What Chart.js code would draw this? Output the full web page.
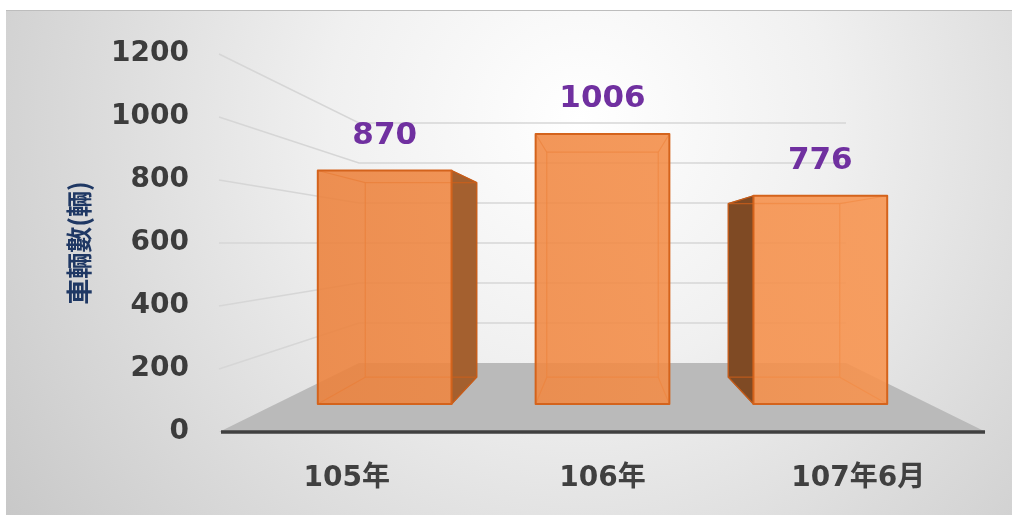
<!DOCTYPE html>
<html>
<head>
<meta charset="utf-8">
<script src="https://cdn.jsdelivr.net/npm/chart.js@4.4.0/dist/chart.umd.min.js"></script>
<style>
  html, body { margin: 0; padding: 0; background: #ffffff; }
  #wrap { width: 1012px; height: 515px; }
</style>
</head>
<body>
<div id="wrap"><canvas id="vehicleChart" width="1012" height="515"></canvas></div>
<script>
// Dati del grafico
const categories = ['105年', '106年', '107年6月'];
const vehicleCounts = [870, 1006, 776];
const yTicks = [0, 200, 400, 600, 800, 1000, 1200];
const yTitle = '車輛數(輛)';

// Profondità della prospettiva (rapporto rispetto al piano frontale)
const S_BAR_FRONT = 0.852;
const S_BAR_BACK = 0.71;
const S_WALL = 0.635;

const NUM_FONT = '"DejaVu Sans", "Noto Sans CJK TC", sans-serif';

// Proiezione verso il punto di fuga (centro dell'area del grafico)
function projector(area) {
    const cx = (area.left + area.right) / 2;
    const cy = (area.top + area.bottom) / 2;
    return function(x, y, s) {
        return { x: cx + s * (x - cx), y: cy + s * (y - cy) };
    };
}

function poly(ctx, pts) {
    ctx.beginPath();
    ctx.moveTo(pts[0].x, pts[0].y);
    for (let i = 1; i < pts.length; i++) ctx.lineTo(pts[i].x, pts[i].y);
    ctx.closePath();
}

/**
 * Sfondo grigio con sfumatura radiale
 */
const backgroundPlugin = {
    id: 'slideBackground',
    beforeDraw(chart) {
        const ctx = chart.ctx;
        ctx.save();
        ctx.fillStyle = '#ffffff';
        ctx.fillRect(0, 0, chart.width, chart.height);
        const g = ctx.createRadialGradient(580, 120, 0, 580, 120, 720);
        g.addColorStop(0, '#ffffff');
        g.addColorStop(0.35, '#f0f0f0');
        g.addColorStop(1, '#c6c6c6');
        ctx.fillStyle = g;
        ctx.fillRect(6, 10, chart.width - 6, chart.height - 10);
        ctx.strokeStyle = '#bdbdbd';
        ctx.lineWidth = 1;
        ctx.beginPath();
        ctx.moveTo(6, 10.5);
        ctx.lineTo(chart.width, 10.5);
        ctx.stroke();
        ctx.restore();
    }
};

/**
 * Griglia in prospettiva, pavimento e barre 3D
 */
const perspectivePlugin = {
    id: 'perspective3d',
    beforeDatasetsDraw(chart) {
        const ctx = chart.ctx;
        const area = chart.chartArea;
        const yScale = chart.scales.y;
        const pr = projector(area);

        ctx.save();
        // linee della griglia: parete sinistra + parete di fondo
        ctx.strokeStyle = '#d6d6d6';
        ctx.lineWidth = 1.5;
        yScale.ticks.forEach(t => {
            if (t.value === 0) return;
            const yF = yScale.getPixelForValue(t.value);
            const a = pr(area.left, yF, S_WALL);
            const b = pr(area.right, yF, S_WALL);
            ctx.beginPath();
            ctx.moveTo(area.left, yF);
            ctx.lineTo(a.x, a.y);
            ctx.lineTo(b.x, b.y);
            ctx.stroke();
        });

        // pavimento
        const y0 = yScale.getPixelForValue(0);
        ctx.fillStyle = '#bababa';
        poly(ctx, [
            { x: area.left, y: y0 },
            { x: area.right, y: y0 },
            pr(area.right, y0, S_WALL),
            pr(area.left, y0, S_WALL)
        ]);
        ctx.fill();

        // asse orizzontale
        ctx.strokeStyle = '#404040';
        ctx.lineWidth = 3.5;
        ctx.beginPath();
        ctx.moveTo(area.left + 2, y0);
        ctx.lineTo(area.right - 1, y0);
        ctx.stroke();

        // barre
        const frontGrad = ctx.createLinearGradient(area.left, 0, area.right, 0);
        frontGrad.addColorStop(0, 'rgba(234,126,56,0.88)');
        frontGrad.addColorStop(1, 'rgba(250,150,80,0.88)');

        const meta = chart.getDatasetMeta(0);
        meta.data.forEach(bar => {
            const p = bar.getProps(['x', 'y', 'base', 'width'], true);
            const x0 = p.x - p.width / 2;
            const x1 = p.x + p.width / 2;
            const F = [pr(x0, p.y, S_BAR_FRONT), pr(x1, p.y, S_BAR_FRONT), pr(x1, p.base, S_BAR_FRONT), pr(x0, p.base, S_BAR_FRONT)];
            const B = [pr(x0, p.y, S_BAR_BACK), pr(x1, p.y, S_BAR_BACK), pr(x1, p.base, S_BAR_BACK), pr(x0, p.base, S_BAR_BACK)];

            // facce laterali visibili
            ctx.lineJoin = 'round';
            if (B[1].x > F[1].x + 0.5) {
                poly(ctx, [F[1], B[1], B[2], F[2]]);
                ctx.fillStyle = '#a4602f';
                ctx.fill();
                ctx.strokeStyle = '#b8581a';
                ctx.lineWidth = 1.2;
                ctx.stroke();
            }
            if (B[0].x < F[0].x - 0.5) {
                poly(ctx, [F[0], B[0], B[3], F[3]]);
                ctx.fillStyle = '#7f4a24';
                ctx.fill();
                ctx.strokeStyle = '#a8521a';
                ctx.lineWidth = 1.2;
                ctx.stroke();
            }

            // spigoli interni (visti in trasparenza)
            ctx.strokeStyle = 'rgba(205,95,25,0.75)';
            ctx.lineWidth = 1.2;
            poly(ctx, B);
            ctx.stroke();
            for (let i = 0; i < 4; i++) {
                ctx.beginPath();
                ctx.moveTo(F[i].x, F[i].y);
                ctx.lineTo(B[i].x, B[i].y);
                ctx.stroke();
            }

            // faccia frontale
            poly(ctx, F);
            ctx.fillStyle = frontGrad;
            ctx.fill();
            ctx.strokeStyle = '#d4631c';
            ctx.lineWidth = 2;
            ctx.stroke();
        });
        ctx.restore();
        return false;
    },
    afterDraw(chart) {
        // etichette dei valori
        const ctx = chart.ctx;
        const pr = projector(chart.chartArea);
        const meta = chart.getDatasetMeta(0);
        ctx.save();
        ctx.font = 'bold 31px ' + NUM_FONT;
        ctx.fillStyle = '#7030a0';
        ctx.textAlign = 'center';
        ctx.textBaseline = 'middle';
        meta.data.forEach((bar, i) => {
            const p = bar.getProps(['x', 'y'], true);
            const top = pr(p.x, p.y, S_BAR_FRONT);
            ctx.fillText(String(vehicleCounts[i]), top.x, top.y - 35);
        });
        ctx.restore();
    }
};

new Chart(document.getElementById('vehicleChart'), {
    type: 'bar',
    data: {
        labels: categories,
        datasets: [{
            label: yTitle,
            data: vehicleCounts,
            backgroundColor: '#f08a4b',
            barPercentage: 0.614,
            categoryPercentage: 1
        }]
    },
    options: {
        responsive: false,
        animation: false,
        devicePixelRatio: 1,
        layout: { padding: { top: 54, right: 26, left: 0, bottom: 0 } },
        plugins: {
            legend: { display: false },
            tooltip: { enabled: false }
        },
        scales: {
            x: {
                grid: { display: false, drawTicks: false },
                border: { display: false },
                ticks: {
                    color: '#404040',
                    padding: 30,
                    font: { family: NUM_FONT, size: 28, weight: 'bold' }
                },
                afterFit(scale) { scale.height = 83; }
            },
            y: {
                min: 0,
                max: 1200,
                grid: { display: false, drawTicks: false },
                border: { display: false },
                afterBuildTicks(scale) {
                    scale.ticks = yTicks.map(v => ({ value: v }));
                },
                ticks: {
                    color: '#3c3c3c',
                    padding: 30,
                    font: { family: NUM_FONT, size: 28, weight: 'bold' },
                    callback: value => String(value)
                },
                title: {
                    display: true,
                    text: yTitle,
                    color: '#1f3864',
                    padding: { top: 64, bottom: 0 },
                    font: { family: '"Noto Sans CJK TC", sans-serif', size: 26, weight: 'bold' }
                },
                afterFit(scale) { scale.width = 219; }
            }
        }
    },
    plugins: [backgroundPlugin, perspectivePlugin]
});
</script>
</body>
</html>
